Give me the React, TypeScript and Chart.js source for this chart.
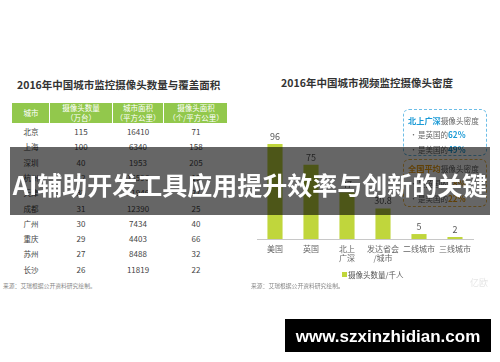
import React, { useEffect, useRef } from "react";
import { Chart, registerables } from "chart.js";
Chart.register(...registerables);

// ---------- data ----------
const tableTitle = "2016年中国城市监控摄像头数量与覆盖面积";
const tableHeaders = [["城市"], ["摄像头数量", "（万台）"], ["城市面积", "（平方公里）"], ["摄像头面积", "（个/平方公里）"]];
const cities = ["北京", "上海", "深圳", "杭州", "天津", "成都", "广州", "重庆", "苏州", "长沙"];
const cameraCounts = [115, 100, 40, 32, 32, 31, 30, 29, 27, 26];
const cityAreas = [16410, 6340, 1953, 16596, 11946, 12390, 7434, 4403, 8488, 11819];
const cameraDensity = [71, 158, 205, 19, 27, 25, 40, 66, 32, 22];

const chartTitle = "2016年中国城市视频监控摄像头密度";
const regions = [["美国"], ["英国"], ["北上", "广深"], ["发达省会", "/城市"], ["二线城市"], ["三线城市"]];
const camerasPerThousand = [96, 75, 47, 30.8, 5, 2];
const seriesName = "摄像头数量/千人";

const sourceNote = "来源：艾瑞根据公开资料研究绘制。";
const bannerText = "AI辅助开发工具应用提升效率与创新的关键";
const footerText = "www.szxinzhidian.com";

const box1Head = ["北上广深", "摄像头密度"];
const box1Lines = [["是英国的", "62%"], ["是美国的", "49%"]];
const box2Head = ["全国平均", "摄像头密度"];
const box2Lines = [["是英国的", "28%"], ["是美国的", "22%"]];

// ---------- styles ----------
const CJK = '"Noto Sans CJK SC", "Noto Sans", sans-serif';
const GREEN = "#92c84c";
const BAR = "#c0d63c";
const BLUE = "#1a9ad6";
const ORANGE = "#f0a010";

type TP = {
  x: number; y: number; size: number; color?: string; bold?: boolean;
  align?: "center" | "left"; family?: string; children: any;
};
const T = ({ x, y, size, color = "#555", bold = false, align = "center", family = CJK, children }: TP) => (
  <div
    style={{
      position: "absolute", left: x, top: y, fontSize: size, color,
      fontWeight: bold ? 700 : 400, fontFamily: family, lineHeight: 1,
      whiteSpace: "nowrap",
      transform: align === "center" ? "translate(-50%,-50%)" : "translateY(-50%)",
    }}
  >
    {children}
  </div>
);

const valueLabels = {
  id: "valueLabels",
  afterDatasetsDraw(chart: any) {
    const ctx = chart.ctx;
    const meta = chart.getDatasetMeta(0);
    ctx.save();
    ctx.font = `9px ${CJK}`;
    ctx.fillStyle = "#555";
    ctx.textAlign = "center";
    ctx.textBaseline = "bottom";
    meta.data.forEach((bar: any, i: number) => {
      ctx.fillText(String(camerasPerThousand[i]), bar.x, bar.y - 3);
    });
    ctx.restore();
  },
};

const colX = [31, 81, 138, 196];
const headerCells = [[12, 49], [50, 112], [113, 163], [164, 227]];
const rowY0 = 132;
const rowStep = 15.3;

export default function App() {
  const ref = useRef<HTMLCanvasElement | null>(null);

  useEffect(() => {
    const chart = new Chart(ref.current as HTMLCanvasElement, {
      type: "bar",
      data: {
        labels: regions as any,
        datasets: [
          {
            label: seriesName,
            data: camerasPerThousand,
            backgroundColor: BAR,
            barPercentage: 0.84,
            categoryPercentage: 0.5,
          },
        ],
      },
      options: {
        responsive: false,
        animation: false,
        devicePixelRatio: 1,
        layout: { padding: { left: 7, right: 27, top: 45, bottom: 21 } },
        plugins: { legend: { display: false }, tooltip: { enabled: false } },
        scales: {
          x: {
            grid: { display: false, drawTicks: false },
            border: { display: true, color: "#c8c8c8" },
            ticks: {
              font: { size: 8, family: CJK },
              color: "#666",
              padding: 5,
              maxRotation: 0,
              autoSkip: false,
            },
            afterFit: (s: any) => {
              s.height = 40;
            },
          },
          y: { display: false, min: 0, max: 100 },
        },
      },
      plugins: [valueLabels],
    });
    return () => chart.destroy();
  }, []);

  return (
    <div
      style={{
        position: "fixed", left: 0, top: 0, width: 500, height: 362,
        background: "#fff", overflow: "hidden",
      }}
    >
      {/* left: table */}
      <T x={17} y={85} size={10.5} bold color="#333" align="left">{tableTitle}</T>
      {headerCells.map(([a, b], i) => (
        <div
          key={"h" + i}
          style={{ position: "absolute", left: a, top: 103, width: b - a, height: 20, background: GREEN }}
        />
      ))}
      {tableHeaders.map((lines, i) =>
        lines.length === 1 ? (
          <T key={"ht" + i} x={colX[i]} y={113} size={7.5} color="#fff">{lines[0]}</T>
        ) : (
          lines.map((l, j) => (
            <T key={"ht" + i + j} x={colX[i]} y={108 + j * 10} size={7.5} color="#fff">{l}</T>
          ))
        )
      )}
      {cities.map((c, i) => {
        const y = rowY0 + i * rowStep;
        return (
          <React.Fragment key={"r" + i}>
            <T x={colX[0]} y={y} size={7.5} color="#444">{c}</T>
            <T x={colX[1]} y={y} size={8} color="#444">{cameraCounts[i]}</T>
            <T x={colX[2]} y={y} size={8} color="#444">{cityAreas[i]}</T>
            <T x={colX[3]} y={y} size={8} color="#444">{cameraDensity[i]}</T>
          </React.Fragment>
        );
      })}
      <T x={3} y={286} size={5.8} color="#888" align="left">{sourceNote}</T>

      {/* right: chart */}
      <T x={367} y={83} size={10.5} bold color="#333">{chartTitle}</T>
      <canvas
        ref={ref}
        width={250}
        height={205}
        style={{ position: "absolute", left: 250, top: 95, width: 250, height: 205 }}
      />
      <div style={{ position: "absolute", left: 342, top: 272, width: 5, height: 5, background: BAR }} />
      <T x={348} y={275} size={7.5} color="#555" align="left">{seriesName}</T>
      <T x={251} y={286} size={5.8} color="#888" align="left">{sourceNote}</T>
      <T x={479} y={282} size={9} color="#e6e6e6">亿欧</T>

      {/* info boxes */}
      <div
        style={{
          position: "absolute", left: 403, top: 109, width: 84, height: 47,
          border: "1px dashed #6cbde6", borderRadius: 6, boxSizing: "border-box",
        }}
      />
      <T x={408} y={120} size={8.2} bold color={BLUE} align="left">
        {box1Head[0]}
        <span style={{ fontWeight: 400, color: "#666", fontSize: 7.6 }}>{box1Head[1]}</span>
      </T>
      {box1Lines.map((l, i) => (
        <React.Fragment key={"b1" + i}>
          <T x={410} y={134 + i * 15} size={7} color="#666" align="left">•</T>
          <T x={418} y={134 + i * 15} size={7.5} color="#666" align="left">
            {l[0]}
            <span style={{ fontWeight: 700, color: BLUE, fontSize: 8.2 }}>{l[1]}</span>
          </T>
        </React.Fragment>
      ))}
      <div
        style={{
          position: "absolute", left: 403, top: 159, width: 84, height: 48,
          border: "1px dashed #f0b84a", borderRadius: 6, boxSizing: "border-box",
        }}
      />
      <T x={408} y={168} size={8.2} bold color={ORANGE} align="left">
        {box2Head[0]}
        <span style={{ fontWeight: 400, color: "#666", fontSize: 7.6 }}>{box2Head[1]}</span>
      </T>
      {box2Lines.map((l, i) => (
        <React.Fragment key={"b2" + i}>
          <T x={410} y={183 + i * 15} size={7} color="#666" align="left">•</T>
          <T x={418} y={183 + i * 15} size={7.5} color="#666" align="left">
            {l[0]}
            <span style={{ fontWeight: 700, color: ORANGE, fontSize: 8.2 }}>{l[1]}</span>
          </T>
        </React.Fragment>
      ))}

      {/* overlay banner */}
      <div
        style={{
          position: "absolute", left: 10, top: 147, width: 480, height: 68,
          background: "rgba(0,0,0,0.6)",
        }}
      />
      <T x={250} y={184} size={25} bold color="#fff">{bannerText}</T>

      {/* footer */}
      <div style={{ position: "absolute", left: 285, top: 319, width: 206, height: 33, background: "#000" }} />
      <T x={388} y={336} size={17} bold color="#fff" family='"Liberation Sans", Arial, sans-serif'>{footerText}</T>
    </div>
  );
}
